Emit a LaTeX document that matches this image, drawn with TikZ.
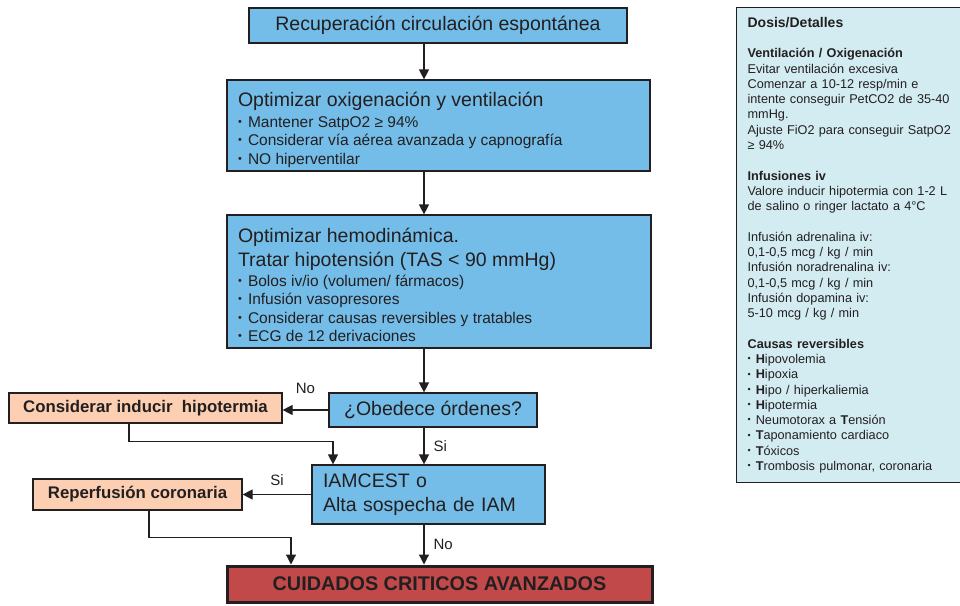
\documentclass[tikz,border=0pt]{standalone}
\usepackage{fontspec}
\setmainfont{Liberation Sans}
\usepackage{xcolor}
\usepackage{graphicx}
\usepackage{tikz}
\usetikzlibrary{positioning,arrows.meta}

\definecolor{boxblue}{HTML}{74BDE8}
\definecolor{boxpeach}{HTML}{FCCFB2}
\definecolor{boxred}{HTML}{C1494A}
\definecolor{panelcyan}{HTML}{D3ECF2}
\definecolor{ink}{HTML}{231F20}
\newcommand{\bul}{\raisebox{.25ex}{\scalebox{.7}{•}}\hspace{.4em}}
\newcommand{\bigline}{\fontsize{19.5}{24}\selectfont\spaceskip=0pt\relax}
\newcommand{\smallline}{\fontsize{15.5}{18.5}\selectfont\spaceskip=0pt\relax}
\newcommand{\panelline}{\fontsize{12.7}{15.28}\selectfont\spaceskip=0pt\relax}

\begin{document}
\begin{tikzpicture}[x=1pt, y=-1pt, line width=1.2pt,
  bluebox/.style={draw=ink, fill=boxblue, text=ink, inner sep=0pt, font=\bigline},
  peachbox/.style={draw=ink, fill=boxpeach, text=ink, inner sep=0pt, font=\bfseries\fontsize{16.8}{19}\selectfont},
  flow/.style={draw=ink, -{Triangle[width=10pt,length=10pt]}},
  lbl/.style={text=ink, inner sep=2pt, font=\fontsize{15}{18}\selectfont}]
\useasboundingbox (0,0) rectangle (960,605);

% main column
\node[bluebox, minimum width=378pt, minimum height=35pt] (rosc) at (438,25.5) {Recuperación circulación espontánea};

\node[bluebox, minimum width=423pt, minimum height=91pt, text width=401pt, align=left] (oxig) at (438.5,125.5)
  {\bigline\rule{0pt}{23pt}Optimizar oxigenación y ventilación\\[2pt]
   \smallline \bul Mantener SatpO2 ≥ 94\%\\
   \bul Considerar vía aérea avanzada y capnografía\\
   \bul NO hiperventilar\par};

\node[bluebox, minimum width=424pt, minimum height=133pt, text width=402pt, align=left] (hemo) at (439,281.5)
  {\bigline\rule{0pt}{22pt}Optimizar hemodinámica.\\
   Tratar hipotensión (TAS < 90 mmHg)\\[1pt]
   \smallline \bul Bolos iv/io (volumen/ fármacos)\\
   \bul Infusión vasopresores\\
   \bul Considerar causas reversibles y tratables\\
   \bul ECG de 12 derivaciones\par};

\node[bluebox, minimum width=208pt, minimum height=34pt] (obed) at (433,410) {¿Obedece órdenes?};
\node[peachbox, minimum width=273pt, minimum height=30pt] (hipo) at (145.5,408) {Considerar inducir~ hipotermia};

\node[bluebox, minimum width=233pt, minimum height=59pt, text width=211pt, align=left] (iam) at (428.5,494.5)
  {IAMCEST o\\ Alta sospecha de IAM};
\node[peachbox, minimum width=209pt, minimum height=31pt] (reper) at (137.5,494.5) {Reperfusión coronaria};

\node[draw=ink, line width=3pt, fill=boxred, text=ink, minimum width=425pt, minimum height=36pt,
  font=\bfseries\fontsize{19.8}{22}\selectfont] (cuid) at (439.5,584) {CUIDADOS CRITICOS AVANZADOS};

% side panel
\node[draw=ink, fill=panelcyan, text=ink, anchor=north west, minimum width=230pt, minimum height=475pt,
  text width=212pt, inner xsep=11pt, inner ysep=0pt, align=left, font=\panelline] (dosis) at (736,7)
  {{\fontsize{14}{15.28}\selectfont\bfseries Dosis/Detalles}\\[15.28pt]
   \textbf{Ventilación / Oxigenación}\\
   Evitar ventilación excesiva\\
   Comenzar a 10-12 resp/min e\\
   intente conseguir PetCO2 de 35-40\\
   mmHg.\\
   Ajuste FiO2 para conseguir SatpO2\\
   ≥ 94\%\\[15.28pt]
   \textbf{Infusiones iv}\\
   Valore inducir hipotermia con 1-2 L\\
   de salino o ringer lactato a 4°C\\[15.28pt]
   Infusión adrenalina iv:\\
   0,1-0,5 mcg / kg / min\\
   Infusión noradrenalina iv:\\
   0,1-0,5 mcg / kg / min\\
   Infusión dopamina iv:\\
   5-10 mcg / kg / min\\[15.28pt]
   \textbf{Causas reversibles}\\
   \bul\textbf{H}ipovolemia\\
   \bul\textbf{H}ipoxia\\
   \bul\textbf{H}ipo / hiperkaliemia\\
   \bul\textbf{H}ipotermia\\
   \bul Neumotorax a \textbf{T}ensión\\
   \bul\textbf{T}aponamiento cardiaco\\
   \bul\textbf{T}óxicos\\
   \bul\textbf{T}rombosis pulmonar, coronaria};

% connectors
\coordinate (spine) at (424,0);
\coordinate (hipoleg) at (129,0);
\coordinate (iamleg) at (333,0);
\coordinate (reperleg) at (149,0);
\coordinate (cuidleg) at (291,0);

\draw[flow] (rosc.south -| spine) -- (oxig.north -| spine);
\draw[flow] (oxig.south -| spine) -- (hemo.north -| spine);
\draw[flow] (hemo.south -| spine) -- (obed.north -| spine);
\draw[flow] (obed.west) -- (obed.west -| hipo.east)
    node[lbl, midway, above=14pt] (obedno) {No};
\draw[flow] (obed.south -| spine) -- (iam.north -| spine)
    node[lbl, midway, right=7pt] (obedsi) {Si};
\draw[flow] (hipo.south -| hipoleg) -- ++(0,18) -| (iam.north -| iamleg);
\draw[flow] (iam.west) -- (iam.west -| reper.east)
    node[lbl, midway, above=6pt] (iamsi) {Si};
\draw[flow] (reper.south -| reperleg) -- ++(0,27) -| (cuid.north -| cuidleg);
\draw[flow] (iam.south -| spine) -- (cuid.north -| spine)
    node[lbl, midway, right=7pt] (iamno) {No};

\end{tikzpicture}
\end{document}
